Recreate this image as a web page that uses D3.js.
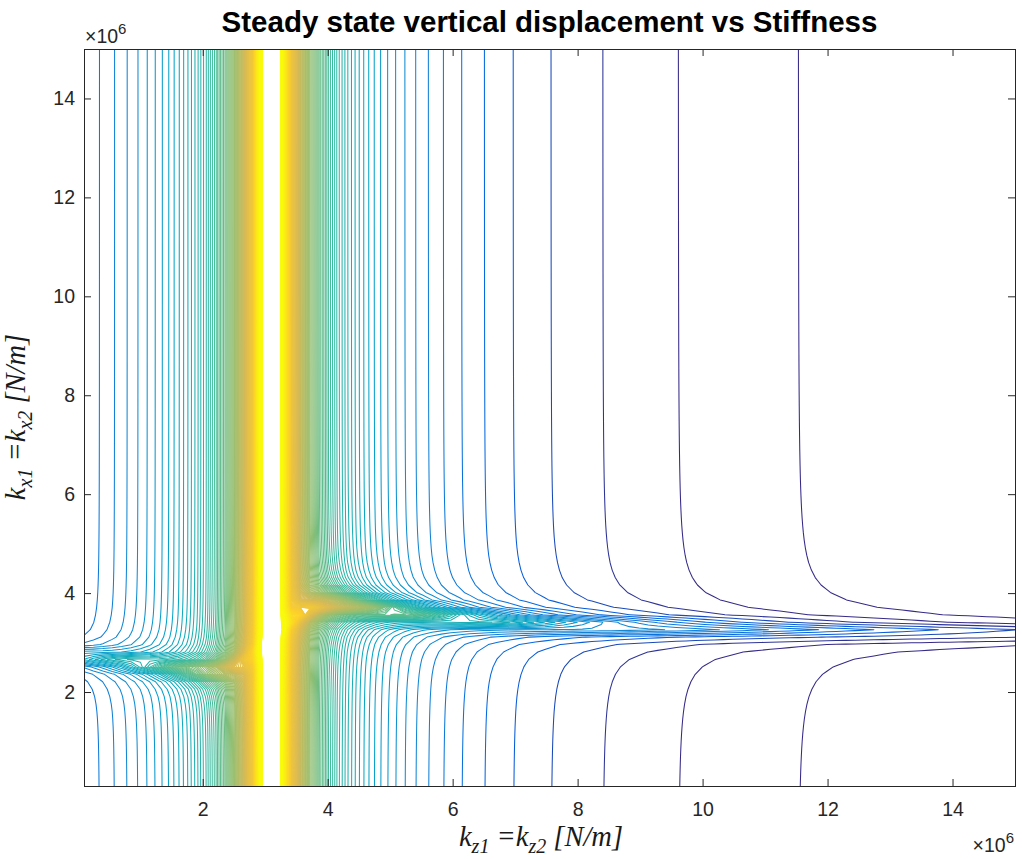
<!DOCTYPE html>
<html>
<head>
<meta charset="utf-8">
<script src="https://cdn.jsdelivr.net/npm/d3@7"></script>
<style>
  html, body { margin: 0; padding: 0; background: #ffffff; }
  svg { display: block; }
  .tick text { font-family: "Liberation Sans", Arial, Helvetica, sans-serif; font-size: 19.5px; fill: #262626; }
  .tick line { stroke: #262626; }
</style>
</head>
<body>
<svg id="chart" width="1022" height="859"></svg>
<script>
// ---- axes and labels (stiffness in units of 10^6 N/m) ----
const titleText = "Steady state vertical displacement vs Stiffness";
const kzDomain = [0.1, 15];          // k_z1 = k_z2
const kxDomain = [0.1, 15];          // k_x1 = k_x2
const xTickValues = [2, 4, 6, 8, 10, 12, 14];
const yTickValues = [2, 4, 6, 8, 10, 12, 14];
const gridCount = 100;               // samples per axis of the stiffness sweep

// ---- contour levels of the displacement amplitude ----
const levelStart = 0.1186;
const levelStep = 0.035;
const levelStop = 6.9;

// ---- response model parameters ----
const verticalResonance = 3.10;      // k_z at which the vertical mode is excited
const verticalDamping = 0.03;
const horizontalResonance = 3.10;    // k_x of the coupled horizontal mode
const couplingShift = [1.31, 1.0];   // strength, spread of the mode-coupling shift
const ridgeGain = [1.1, 1.9];        // below / above the vertical resonance
const ridgeWidth = [0.13, 0.14];     // below / above the vertical resonance
const ridgeOnset = 0.5;

// ---- parula colour stops ----
const parulaStops = ["#352a87", "#0363e1", "#1485d4", "#06a7c6", "#38b99e",
                     "#92bf73", "#d9ba56", "#fcce2e", "#f9fa0e"];
const colourRange = [0.175, 6.0];    // level span of the colour scale (log)

const plot = { left: 84, right: 1015, top: 49, bottom: 786 };

const svg = d3.select("#chart");
const x = d3.scaleLinear().domain(kzDomain).range([plot.left, plot.right]);
const y = d3.scaleLinear().domain(kxDomain).range([plot.bottom, plot.top]);

// Steady-state vertical displacement amplitude for a stiffness pair
function response(kz, kx) {
  const a = kz - verticalResonance;
  const base = 1 / Math.hypot(a, verticalDamping);
  const side = a < 0 ? 0 : 1;
  const centre = horizontalResonance + couplingShift[0] * a / (a * a + couplingShift[1] * couplingShift[1]);
  const gain = ridgeGain[side] * (a * a) / (a * a + ridgeOnset * ridgeOnset);
  const d = (kx - centre) / ridgeWidth[side];
  return base * (1 + gain / (1 + d * d));
}

// Sample grid, padded with one duplicated row/column on every side so
// that closing segments of the contour rings fall outside the plot area.
const kzSamples = d3.range(gridCount).map(i => kzDomain[0] + i * (kzDomain[1] - kzDomain[0]) / (gridCount - 1));
const kxSamples = d3.range(gridCount).map(j => kxDomain[0] + j * (kxDomain[1] - kxDomain[0]) / (gridCount - 1));
const dkz = kzSamples[1] - kzSamples[0];
const dkx = kxSamples[1] - kxSamples[0];
const kzPad = [kzSamples[0] - dkz, ...kzSamples, kzSamples[gridCount - 1] + dkz];
const kxPad = [kxSamples[0] - dkx, ...kxSamples, kxSamples[gridCount - 1] + dkx];
const nx = kzPad.length, ny = kxPad.length;
const values = new Float64Array(nx * ny);
for (let j = 0; j < ny; j++) {
  const jj = Math.min(Math.max(j - 1, 0), gridCount - 1);
  for (let i = 0; i < nx; i++) {
    const ii = Math.min(Math.max(i - 1, 0), gridCount - 1);
    values[j * nx + i] = response(kzSamples[ii], kxSamples[jj]);
  }
}

const levels = d3.range(levelStart, levelStop + 1e-9, levelStep);

const parula = d3.piecewise(d3.interpolateRgb, parulaStops);
const colourPos = d3.scaleLog().domain(colourRange).range([0, 1]).clamp(true);
const colour = v => parula(colourPos(v));

// grid index coordinate -> data value
function gridToData(arr, u) {
  const s = u - 0.5;
  const n = arr.length;
  if (s <= 0) return arr[0] + s * (arr[1] - arr[0]);
  if (s >= n - 1) return arr[n - 1] + (s - (n - 1)) * (arr[n - 1] - arr[n - 2]);
  const i = Math.floor(s), t = s - i;
  return arr[i] + t * (arr[i + 1] - arr[i]);
}

const contours = d3.contours().size([nx, ny]).thresholds(levels)(values);

svg.append("defs").append("clipPath").attr("id", "plotClip")
  .append("rect")
  .attr("x", plot.left).attr("y", plot.top)
  .attr("width", plot.right - plot.left).attr("height", plot.bottom - plot.top);

const lines = svg.append("g").attr("clip-path", "url(#plotClip)");

function ringPath(ring) {
  let s = "";
  ring.forEach((p, k) => {
    const px = x(gridToData(kzPad, p[0]));
    const py = y(gridToData(kxPad, p[1]));
    s += (k ? "L" : "M") + px.toFixed(2) + "," + py.toFixed(2);
  });
  return s;
}

contours.forEach(c => {
  if (!c.coordinates.length) return;
  let d = "";
  c.coordinates.forEach(poly => poly.forEach(ring => { d += ringPath(ring); }));
  lines.append("path")
    .attr("d", d)
    .attr("fill", "none")
    .attr("stroke", colour(c.value))
    .attr("stroke-width", 1.05)
    .attr("stroke-linejoin", "round");
});

// ---- axes (ticks point inward, box on) ----
const gBottom = svg.append("g").attr("transform", `translate(0,${plot.bottom})`)
  .call(d3.axisBottom(x).tickValues(xTickValues).tickSize(-7).tickPadding(16).tickFormat(d3.format("d")));
const gTop = svg.append("g").attr("transform", `translate(0,${plot.top})`)
  .call(d3.axisTop(x).tickValues(xTickValues).tickSize(-7).tickFormat(""));
const gLeft = svg.append("g").attr("transform", `translate(${plot.left},0)`)
  .call(d3.axisLeft(y).tickValues(yTickValues).tickSize(-7).tickPadding(9).tickFormat(d3.format("d")));
const gRight = svg.append("g").attr("transform", `translate(${plot.right},0)`)
  .call(d3.axisRight(y).tickValues(yTickValues).tickSize(-7).tickFormat(""));
[gBottom, gTop, gLeft, gRight].forEach(g => g.select(".domain").remove());

svg.append("rect")
  .attr("x", plot.left).attr("y", plot.top)
  .attr("width", plot.right - plot.left).attr("height", plot.bottom - plot.top)
  .attr("fill", "none").attr("stroke", "#262626").attr("stroke-width", 1)
  .attr("shape-rendering", "crispEdges");

// ---- exponent markers ----
function exponent(xPos, yPos, anchor) {
  const t = svg.append("text").attr("x", xPos).attr("y", yPos)
    .attr("text-anchor", anchor)
    .attr("font-family", "Liberation Sans, Arial, sans-serif").attr("font-size", 19.5).attr("fill", "#262626");
  t.append("tspan").text("\u00d710");
  t.append("tspan").attr("font-size", 15).attr("dy", -9).text("6");
}
exponent(plot.left + 1, 43, "start");
exponent(plot.right - 1, 852, "end");

// ---- title ----
svg.append("text")
  .attr("x", (plot.left + plot.right) / 2).attr("y", 32)
  .attr("text-anchor", "middle")
  .attr("font-family", "Liberation Sans, Arial, sans-serif")
  .attr("font-weight", "bold").attr("font-size", 29.5).attr("fill", "#000")
  .text(titleText);

// ---- axis labels (math style) ----
function mathLabel(sel, main1, sub1, main2, sub2, tail) {
  sel.attr("font-family", "Liberation Serif, Times New Roman, serif")
    .attr("font-style", "italic").attr("font-size", 28.5).attr("fill", "#1a1a1a")
    .attr("text-anchor", "middle");
  sel.append("tspan").text(main1);
  sel.append("tspan").attr("font-size", 20).attr("dy", 7).text(sub1);
  sel.append("tspan").attr("dy", -7).text(" =" + main2);
  sel.append("tspan").attr("font-size", 20).attr("dy", 7).text(sub2);
  sel.append("tspan").attr("dy", -7).text(" " + tail);
}

mathLabel(svg.append("text").attr("x", 541).attr("y", 846), "k", "z1", "k", "z2", "[N/m]");
mathLabel(svg.append("text").attr("transform", "translate(25,417) rotate(-90)"), "k", "x1", "k", "x2", "[N/m]");
</script>
</body>
</html>
